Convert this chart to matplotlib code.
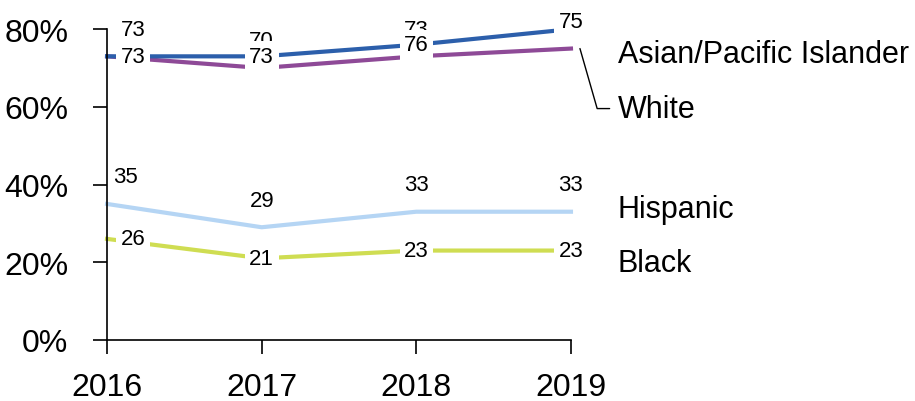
import matplotlib
matplotlib.use('Agg')
import matplotlib.pyplot as plt
from matplotlib import font_manager
from matplotlib.transforms import ScaledTranslation

names = [f.name for f in font_manager.fontManager.ttflist]
narrow = 'Liberation Sans Narrow' if 'Liberation Sans Narrow' in names else 'Liberation Sans'
plt.rcParams['font.family'] = [narrow, 'DejaVu Sans']

# data
years = [2016, 2017, 2018, 2019]
asian = [73, 73, 76, 80]
white = [73, 70, 73, 75]
hispanic = [35, 29, 33, 33]
black = [26, 21, 23, 23]
y_ticks = [0, 20, 40, 60, 80]

c_asian = '#2c5fab'
c_white = '#8e4a97'
c_hisp = '#b5d5f4'
c_black = '#cfdd52'

fig = plt.figure(figsize=(9.15, 4.02), dpi=100)
ax = fig.add_axes([0.117, 0.152, 0.507, 0.773])

lw = 3.0
ax.plot(years, black, color=c_black, lw=lw, zorder=2, clip_on=False)
ax.plot(years, hispanic, color=c_hisp, lw=lw, zorder=2, clip_on=False)
ax.plot(years, white, color=c_white, lw=lw, zorder=2, clip_on=False)
ax.plot(years, asian, color=c_asian, lw=lw, zorder=2, clip_on=False)

ax.set_xlim(2016, 2019)
ax.set_ylim(0, 80)
ax.set_xticks(years)
ax.set_yticks(y_ticks)
ax.set_yticklabels([f'{v}%' for v in y_ticks])
for s in ['top', 'right']:
    ax.spines[s].set_visible(False)
ax.spines['left'].set_linewidth(1.2)
ax.spines['bottom'].set_linewidth(1.2)
ax.tick_params(axis='y', direction='out', length=10, width=1.2, labelsize=23, pad=18)
ax.tick_params(axis='x', direction='out', length=10, width=1.2, labelsize=23, pad=13)

box = dict(boxstyle='square,pad=0.2', fc='white', ec='none')
lab_fs = 16
first_dx = 26  # first label is nudged right of the axis

def label(x, y, txt, dy, dx, bbox, z):
    ax.annotate(txt, xy=(x, y), xytext=(dx, dy), textcoords='offset pixels',
                ha='center', va='center', fontsize=lab_fs, bbox=bbox,
                zorder=z, annotation_clip=False)

for i, yr in enumerate(years):
    dx = first_dx if i == 0 else 0
    # white: above the point
    label(yr, white[i], str(white[i]), 27, dx, box, 6 if i == 3 else 4)
    # asian: centred on the point
    label(yr, asian[i], str(asian[i]), 0, dx, box, 5)
    # hispanic: above
    label(yr, hispanic[i], str(hispanic[i]), 27, 18 if i == 0 else 0, None, 5)
    # black: centred
    label(yr, black[i], str(black[i]), 0, dx, box, 5)

name_fs = 22
ax.annotate('Asian/Pacific Islander', xy=(years[-1], asian[-1]), xytext=(47, -25),
            textcoords='offset pixels', ha='left', va='center', fontsize=name_fs,
            annotation_clip=False)
# leader line for White starts a little right of the last point
lead_from = ax.transData + ScaledTranslation(9 / 100, 0, fig.dpi_scale_trans)
ax.annotate('White', xy=(years[-1], white[-1]), xycoords=lead_from, xytext=(38, -60),
            textcoords='offset pixels', ha='left', va='center', fontsize=name_fs,
            annotation_clip=False,
            arrowprops=dict(arrowstyle='-', color='black', lw=1,
                            connectionstyle='angle,angleA=0,angleB=106,rad=0',
                            shrinkA=4, shrinkB=0))
ax.annotate('Hispanic', xy=(years[-1], hispanic[-1]), xytext=(47, 3),
            textcoords='offset pixels', ha='left', va='center', fontsize=name_fs,
            annotation_clip=False)
ax.annotate('Black', xy=(years[-1], black[-1]), xytext=(47, -12),
            textcoords='offset pixels', ha='left', va='center', fontsize=name_fs,
            annotation_clip=False)

fig.savefig('out.png', dpi=100)
